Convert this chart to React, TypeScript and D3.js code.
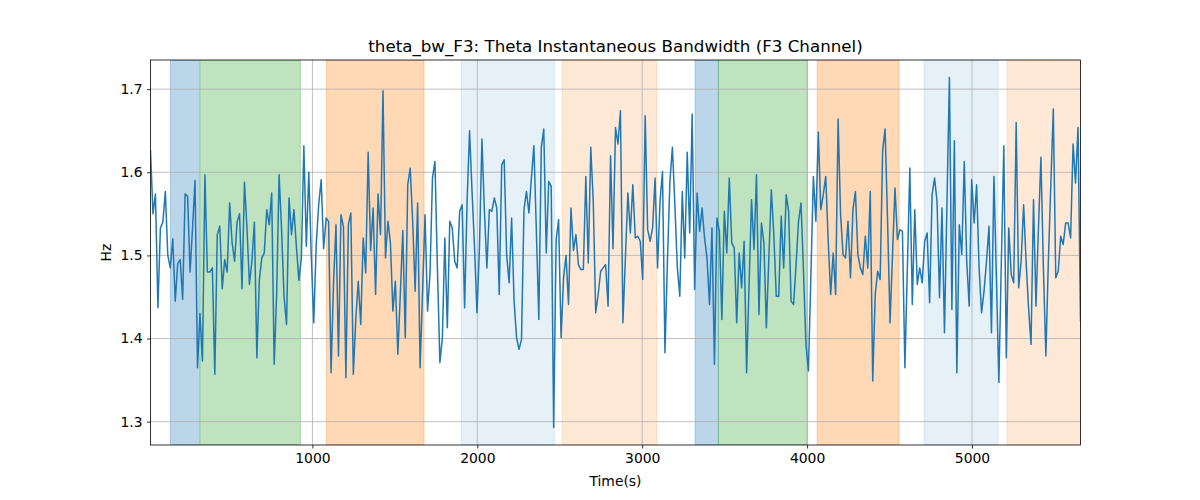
// theta_bw_F3 chart: D3 computes scales and path, React hosts the SVG.

import { useRef, useEffect } from "react";
import * as d3 from "d3";

// ─── Data ─────────────────────────────────────────────────────────────────────

const T0 = 18; // first sample time (s)
const STEP = 15; // sample spacing (s)

const bandwidth = [
  1.626, 1.55, 1.574, 1.437, 1.533, 1.54, 1.577, 1.5, 1.485, 1.52, 1.445, 1.49, 1.495, 1.447, 1.574, 1.571,
  1.48, 1.533, 1.59, 1.365, 1.43, 1.373, 1.597, 1.48, 1.48, 1.485, 1.357, 1.525, 1.535, 1.46, 1.495, 1.48,
  1.563, 1.515, 1.493, 1.54, 1.55, 1.46, 1.588, 1.533, 1.465, 1.493, 1.54, 1.377, 1.47, 1.497,
  1.503, 1.555, 1.537, 1.575, 1.369, 1.453, 1.597, 1.53, 1.45, 1.417, 1.569, 1.525, 1.555, 1.51, 1.47, 1.497,
  1.632, 1.511, 1.6, 1.5, 1.419, 1.513, 1.561, 1.591, 1.508, 1.545, 1.541, 1.359, 1.467, 1.537, 1.379, 1.549,
  1.535, 1.353, 1.537, 1.551, 1.357, 1.423, 1.469, 1.417, 1.521, 1.479, 1.624, 1.506, 1.557, 1.453, 1.574, 1.525,
  1.698, 1.497, 1.541, 1.515, 1.433, 1.469, 1.381, 1.453, 1.53, 1.401, 1.585, 1.605, 1.541, 1.457, 1.563, 1.365,
  1.457, 1.549, 1.433, 1.478, 1.593, 1.613, 1.485, 1.371, 1.401, 1.521, 1.413, 1.541, 1.533, 1.493, 1.485, 1.553,
  1.561, 1.437, 1.565, 1.65, 1.577, 1.51, 1.431, 1.51, 1.64, 1.553, 1.485, 1.555, 1.553, 1.569,
  1.557, 1.453, 1.609, 1.615, 1.5, 1.467, 1.545, 1.445, 1.401, 1.387, 1.399, 1.555, 1.577, 1.551, 1.593, 1.632,
  1.53, 1.423, 1.63, 1.652, 1.503, 1.589, 1.583, 1.293, 1.519, 1.543, 1.401, 1.473, 1.5, 1.441, 1.557, 1.506,
  1.525, 1.489, 1.483, 1.483, 1.595, 1.491, 1.63, 1.565, 1.431, 1.453, 1.481, 1.485, 1.489, 1.439, 1.62,
  1.508, 1.654, 1.634, 1.674, 1.419, 1.497, 1.575, 1.527, 1.585, 1.521, 1.523, 1.517, 1.471, 1.668, 1.531, 1.517,
  1.533, 1.593, 1.485, 1.565, 1.601, 1.383, 1.493, 1.589, 1.63, 1.561, 1.485, 1.451, 1.577, 1.497, 1.624, 1.527,
  1.67, 1.459, 1.575, 1.529, 1.557, 1.521, 1.497, 1.441, 1.533, 1.369, 1.545, 1.529, 1.423, 1.553, 1.503,
  1.593, 1.515, 1.509, 1.419, 1.503, 1.461, 1.517, 1.359, 1.465, 1.567, 1.507, 1.597, 1.429, 1.539, 1.515, 1.413,
  1.497, 1.579, 1.525, 1.451, 1.451, 1.547, 1.485, 1.573, 1.553, 1.445, 1.441, 1.489, 1.541, 1.563, 1.481, 1.393,
  1.361, 1.477, 1.595, 1.541, 1.648, 1.555, 1.573, 1.595, 1.517, 1.453, 1.503, 1.453, 1.664, 1.549, 1.501,
  1.497, 1.541, 1.473, 1.555, 1.577, 1.501, 1.485, 1.477, 1.523, 1.485, 1.577, 1.349, 1.453, 1.481, 1.471, 1.626,
  1.652, 1.541, 1.419, 1.501, 1.581, 1.519, 1.531, 1.529, 1.365, 1.485, 1.605, 1.441, 1.555, 1.465, 1.485, 1.467,
  1.517, 1.527, 1.443, 1.573, 1.593, 1.565, 1.449, 1.557, 1.407, 1.561, 1.714, 1.435, 1.638, 1.359, 1.537,
  1.501, 1.613, 1.493, 1.439, 1.591, 1.539, 1.585, 1.485, 1.431, 1.457, 1.493, 1.535, 1.407, 1.595, 1.473, 1.347,
  1.493, 1.632, 1.377, 1.533, 1.477, 1.467, 1.66, 1.461, 1.493, 1.561, 1.493, 1.437, 1.393, 1.567, 1.439, 1.533,
  1.618, 1.485, 1.379, 1.493, 1.585, 1.676, 1.473, 1.481, 1.523, 1.513, 1.539, 1.539, 1.521, 1.634, 1.587, 1.654,
  1.421,
];

// shaded sleep-stage style bands
const spanStart = [139, 321, 1085, 1903, 2515, 3321, 3462, 4061, 4709, 5212];
const spanEnd = [315, 927, 1677, 2467, 3089, 3462, 4002, 4558, 5158, 5658];
const spanColor = [
  "#1f77b4", "#2ca02c", "#ff7f0e", "#1f77b4", "#ff7f0e",
  "#1f77b4", "#2ca02c", "#ff7f0e", "#1f77b4", "#ff7f0e",
];
const spanAlpha = [0.3, 0.3, 0.3, 0.11, 0.17, 0.3, 0.3, 0.3, 0.11, 0.17];

const xTicks = [1000, 2000, 3000, 4000, 5000];
const yTicks = [1.3, 1.4, 1.5, 1.6, 1.7];

const TITLE = "theta_bw_F3: Theta Instantaneous Bandwidth (F3 Channel)";
const X_LABEL = "Time(s)";
const Y_LABEL = "Hz";

const WIDTH = 1200;
const HEIGHT = 500;
const MARGIN = { top: 60, right: 119.5, bottom: 55, left: 150.5 };
const FONT = "DejaVu Sans, sans-serif";

export default function App() {
  const svgRef = useRef<SVGSVGElement>(null);

  const innerW = WIDTH - MARGIN.left - MARGIN.right;
  const innerH = HEIGHT - MARGIN.top - MARGIN.bottom;

  useEffect(() => {
    document.body.style.margin = "0";
    if (!svgRef.current) return;

    const times = bandwidth.map((_, i) => T0 + i * STEP);

    // ── Scales ──────────────────────────────────────────────────────────────
    const xScale = d3
      .scaleLinear()
      .domain([times[0], times[times.length - 1]])
      .range([0, innerW]);

    const yMin = d3.min(bandwidth) ?? 0;
    const yMax = d3.max(bandwidth) ?? 1;
    const pad = (yMax - yMin) * 0.05;
    const yScale = d3
      .scaleLinear()
      .domain([yMin - pad, yMax + pad])
      .range([innerH, 0]);

    const svg = d3.select(svgRef.current);
    svg.selectAll("*").remove();

    const g = svg
      .append("g")
      .attr("transform", `translate(${MARGIN.left},${MARGIN.top})`);

    g.append("defs")
      .append("clipPath")
      .attr("id", "plot-clip")
      .append("rect")
      .attr("width", innerW)
      .attr("height", innerH);

    // ── Spans ───────────────────────────────────────────────────────────────
    g.append("g")
      .attr("clip-path", "url(#plot-clip)")
      .selectAll("rect")
      .data(spanStart)
      .enter()
      .append("rect")
      .attr("x", (d) => xScale(d))
      .attr("y", 0)
      .attr("width", (d, i) => xScale(spanEnd[i]) - xScale(d))
      .attr("height", innerH)
      .attr("fill", (_, i) => spanColor[i])
      .attr("fill-opacity", (_, i) => spanAlpha[i])
      .attr("stroke", (_, i) => spanColor[i])
      .attr("stroke-opacity", (_, i) => spanAlpha[i])
      .attr("stroke-width", 1);

    // ── Gridlines ───────────────────────────────────────────────────────────
    const grid = g.append("g").attr("stroke", "#b0b0b0").attr("stroke-width", 0.8);
    grid
      .selectAll(".gx")
      .data(xTicks)
      .enter()
      .append("line")
      .attr("x1", (d) => xScale(d))
      .attr("x2", (d) => xScale(d))
      .attr("y1", 0)
      .attr("y2", innerH);
    grid
      .selectAll(".gy")
      .data(yTicks)
      .enter()
      .append("line")
      .attr("x1", 0)
      .attr("x2", innerW)
      .attr("y1", (d) => yScale(d))
      .attr("y2", (d) => yScale(d));

    // ── Line ────────────────────────────────────────────────────────────────
    const line = d3
      .line<number>()
      .x((_, i) => xScale(times[i]))
      .y((d) => yScale(d));

    g.append("path")
      .datum(bandwidth)
      .attr("clip-path", "url(#plot-clip)")
      .attr("fill", "none")
      .attr("stroke", "#1f77b4")
      .attr("stroke-width", 1.5)
      .attr("stroke-linejoin", "round")
      .attr("stroke-linecap", "square")
      .attr("d", line);

    // ── Axes ────────────────────────────────────────────────────────────────
    const styleAxis = (gEl: d3.Selection<SVGGElement, unknown, null, undefined>) => {
      gEl.select(".domain").remove();
      gEl.selectAll("line").attr("stroke", "#000").attr("stroke-width", 0.8);
      gEl
        .selectAll("text")
        .attr("fill", "#000")
        .attr("font-size", "13.9px")
        .attr("font-family", FONT);
    };

    g.append("g")
      .attr("transform", `translate(0,${innerH})`)
      .call(
        d3.axisBottom(xScale).tickValues(xTicks).tickSize(3.5).tickPadding(4.5).tickFormat(d3.format("d"))
      )
      .call(styleAxis);

    g.append("g")
      .call(
        d3.axisLeft(yScale).tickValues(yTicks).tickSize(3.5).tickPadding(4.5).tickFormat(d3.format(".1f"))
      )
      .call(styleAxis);

    g.append("g").call((gEl) => gEl.attr("font-family", FONT));

    // spines
    g.append("rect")
      .attr("width", innerW)
      .attr("height", innerH)
      .attr("fill", "none")
      .attr("stroke", "#000")
      .attr("stroke-width", 0.8);

    // ── Labels ──────────────────────────────────────────────────────────────
    g.append("text")
      .attr("x", innerW / 2)
      .attr("y", -8)
      .attr("text-anchor", "middle")
      .attr("font-size", "16.7px")
      .attr("font-family", FONT)
      .attr("fill", "#000")
      .text(TITLE);

    g.append("text")
      .attr("x", innerW / 2)
      .attr("y", innerH + 41)
      .attr("text-anchor", "middle")
      .attr("font-size", "13.9px")
      .attr("font-family", FONT)
      .attr("fill", "#000")
      .text(X_LABEL);

    g.append("text")
      .attr("transform", "rotate(-90)")
      .attr("x", -innerH / 2)
      .attr("y", -40)
      .attr("text-anchor", "middle")
      .attr("font-size", "13.9px")
      .attr("font-family", FONT)
      .attr("fill", "#000")
      .text(Y_LABEL);
  }, [innerW, innerH]);

  return (
    <svg
      ref={svgRef}
      width={WIDTH}
      height={HEIGHT}
      style={{ display: "block", background: "#fff" }}
    />
  );
}
